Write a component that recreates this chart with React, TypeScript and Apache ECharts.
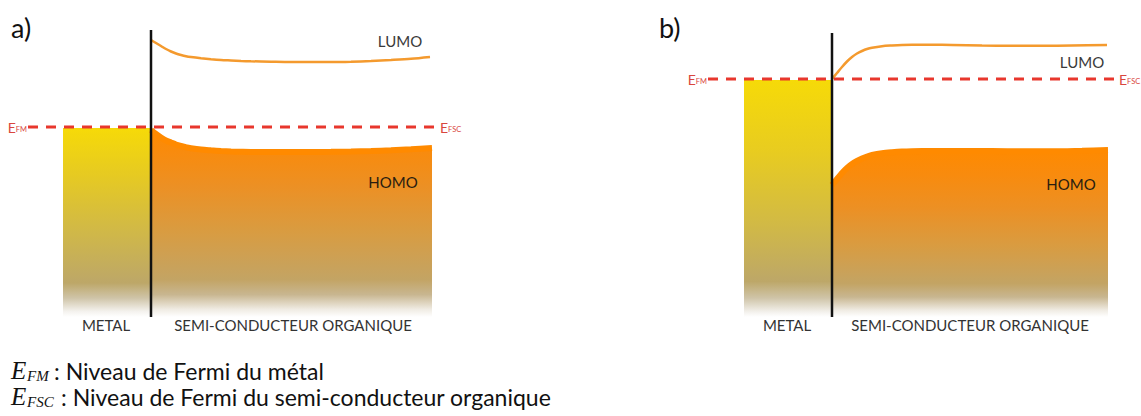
import React, { useEffect, useRef } from "react";
import * as echarts from "echarts";

// Panel a) — positions along the junction (interface at 0), energies relative to the Fermi level (0)
const lumoAX = [0, 5, 10, 15, 20, 25, 30, 35, 40, 50, 60, 70, 80, 90, 100, 120, 140, 160, 180, 200, 220, 240, 260, 279];
const lumoAE = [87, 84, 81, 78, 75.5, 73.5, 72, 70.8, 70, 68.8, 67.8, 67, 66.5, 66, 65.7, 65.3, 65, 65, 65, 65.3, 66, 67, 68.2, 70];
const homoAX = [0, 5, 10, 15, 20, 25, 30, 35, 40, 50, 60, 70, 80, 90, 100, 120, 140, 160, 180, 200, 220, 240, 260, 281];
const homoAE = [-3, -7, -10.5, -13.5, -15.5, -17.5, -19, -20.3, -21.2, -22.5, -23.3, -24, -24.5, -24.8, -25, -25, -25, -25, -24.8, -24.5, -24, -23.3, -22.3, -21];
const metalAX = [-88, 0];
const metalAE = [-1, -1];
const fermiAX = [-123, 286];

// Panel b)
const lumoBX = [0, 5, 10, 15, 20, 25, 30, 35, 40, 50, 60, 70, 80, 100, 120, 150, 180, 210, 240, 275];
const lumoBE = [0, 6, 12, 17.5, 22, 25.5, 28, 30, 31.3, 32.8, 33.5, 34, 34.2, 34.2, 34, 33.5, 33.2, 33.2, 33.5, 34];
const homoBX = [0, 5, 10, 15, 20, 25, 30, 35, 40, 50, 60, 70, 80, 100, 130, 160, 190, 220, 250, 276];
const homoBE = [-106, -100, -94, -89, -85, -82, -79.5, -77.5, -76, -74.2, -73.2, -72.5, -72.2, -72, -72, -72, -72.3, -72.3, -71.7, -71];
const metalBX = [-88, 0];
const metalBE = [-1, -1];
const fermiBX = [-124, 284];

const fermiLevel = 0;
const axisA = { xMin: -131, xMax: 289, yMin: -190, yMax: 97 };
const axisB = { xMin: -132, xMax: 298, yMin: -238, yMax: 46 };

const fermiLabels = ["FM", "FSC"];
const panelLabels = ["a)", "b)"];
const regionLabels = ["METAL", "SEMI-CONDUCTEUR ORGANIQUE"];
const bandLabels = ["LUMO", "HOMO"];
const legendItems = [
  { sub: "FM", text: ": Niveau de Fermi du métal" },
  { sub: "FSC", text: ": Niveau de Fermi du semi-conducteur organique" },
];

const zip = (xs: number[], ys: number[]) => xs.map((x, i) => [x, ys[i]]);

const grad = (stops: [number, string][]) =>
  new echarts.graphic.LinearGradient(
    0,
    0,
    0,
    1,
    stops.map(([offset, color]) => ({ offset, color }))
  );

const SANS = "Lato, 'Open Sans', sans-serif";

function panelSeries(
  idx: number,
  lumoX: number[],
  lumoE: number[],
  homoX: number[],
  homoE: number[],
  metalX: number[],
  metalE: number[],
  fermiX: number[],
  ax: { yMin: number; yMax: number },
  metalStops: [number, string][],
  homoStops: [number, string][]
) {
  const base = { xAxisIndex: idx, yAxisIndex: idx, type: "line", silent: true };
  return [
    {
      ...base,
      name: "metal" + idx,
      data: zip(metalX, metalE),
      showSymbol: false,
      lineStyle: { width: 0 },
      areaStyle: { origin: "start", color: grad(metalStops), opacity: 1 },
      z: 1,
    },
    {
      ...base,
      name: "homo" + idx,
      data: zip(homoX, homoE),
      smooth: 0.3,
      showSymbol: false,
      lineStyle: { width: 6, color: "#ff8a00" },
      areaStyle: { origin: "start", color: grad(homoStops), opacity: 1 },
      z: 2,
    },
    {
      ...base,
      name: "lumo" + idx,
      data: zip(lumoX, lumoE),
      smooth: 0.3,
      showSymbol: false,
      lineStyle: { width: 2.5, color: "#f49a2e" },
      z: 3,
    },
    {
      ...base,
      name: "fermi" + idx,
      data: [
        {
          value: [fermiX[0], fermiLevel],
          label: {
            show: true,
            position: "left",
            distance: 1,
            formatter: "{e|E}{s|" + fermiLabels[0] + "}",
          },
        },
        {
          value: [fermiX[1], fermiLevel],
          label: {
            show: true,
            position: "right",
            distance: 3,
            formatter: "{e|E}{s|" + fermiLabels[1] + "}",
          },
        },
      ],
      symbol: "circle",
      symbolSize: 0,
      lineStyle: { width: 3, color: "#e8372d", type: [10, 8] },
      label: {
        rich: {
          e: { fontSize: 14, color: "#d9463e", fontFamily: SANS, verticalAlign: "bottom" },
          s: { fontSize: 7.5, color: "#d9463e", fontFamily: SANS, verticalAlign: "bottom", padding: [0, 0, 1, 0] },
        },
      },
      z: 4,
    },
    {
      ...base,
      name: "interface" + idx,
      data: [
        [0, ax.yMax],
        [0, ax.yMin],
      ],
      showSymbol: false,
      lineStyle: { width: 2.5, color: "#111" },
      z: 5,
    },
  ];
}

const metalStopsA: [number, string][] = [
  [0, "#f6da08"],
  [0.25, "#e6ca22"],
  [0.55, "#d0b848"],
  [0.82, "#bda768"],
  [0.9, "#cfc4a8"],
  [0.97, "#f4f2ee"],
  [1, "#ffffff"],
];
const homoStopsA: [number, string][] = [
  [0, "#ff8a00"],
  [0.12, "#f88b0e"],
  [0.3, "#ec9024"],
  [0.55, "#d89c42"],
  [0.8, "#c3a464"],
  [0.88, "#c8b690"],
  [0.96, "#f0ece4"],
  [1, "#ffffff"],
];
const metalStopsB: [number, string][] = [
  [0, "#f6da08"],
  [0.3, "#e8cc20"],
  [0.6, "#d2ba44"],
  [0.85, "#bda768"],
  [0.92, "#cfc4a8"],
  [0.98, "#f4f2ee"],
  [1, "#ffffff"],
];
const homoStopsB: [number, string][] = [
  [0, "#ff8a00"],
  [0.15, "#f88b0e"],
  [0.35, "#ec9024"],
  [0.58, "#d89c42"],
  [0.8, "#c3a464"],
  [0.88, "#c8b690"],
  [0.96, "#f0ece4"],
  [1, "#ffffff"],
];

const txt = (x: number, y: number, text: string, font: string, color = "#333", align = "center") => ({
  type: "text",
  x,
  y,
  z: 100,
  silent: true,
  style: { text, font, fill: color, align, verticalAlign: "middle" },
});

const option: any = {
  animation: false,
  backgroundColor: "#ffffff",
  grid: [
    { left: 20, top: 30, width: 420, height: 287 },
    { left: 700, top: 33, width: 430, height: 284 },
  ],
  xAxis: [
    { gridIndex: 0, type: "value", min: axisA.xMin, max: axisA.xMax, show: false },
    { gridIndex: 1, type: "value", min: axisB.xMin, max: axisB.xMax, show: false },
  ],
  yAxis: [
    { gridIndex: 0, type: "value", min: axisA.yMin, max: axisA.yMax, show: false },
    { gridIndex: 1, type: "value", min: axisB.yMin, max: axisB.yMax, show: false },
  ],
  series: [
    ...panelSeries(0, lumoAX, lumoAE, homoAX, homoAE, metalAX, metalAE, fermiAX, axisA, metalStopsA, homoStopsA),
    ...panelSeries(1, lumoBX, lumoBE, homoBX, homoBE, metalBX, metalBE, fermiBX, axisB, metalStopsB, homoStopsB),
  ],
  graphic: [
    txt(11, 27, panelLabels[0], `27px ${SANS}`, "#111", "left"),
    txt(659, 27, panelLabels[1], `27px ${SANS}`, "#111", "left"),
    txt(106, 325, regionLabels[0], `15px ${SANS}`),
    txt(293, 325, regionLabels[1], `15px ${SANS}`),
    txt(787, 325, regionLabels[0], `15px ${SANS}`),
    txt(970, 325, regionLabels[1], `15px ${SANS}`),
    txt(400, 41, bandLabels[0], `15px ${SANS}`, "#3a3a3a"),
    txt(393, 182, bandLabels[1], `15px ${SANS}`, "#2a1d10"),
    txt(1082, 62, bandLabels[0], `15px ${SANS}`, "#3a3a3a"),
    txt(1071, 184, bandLabels[1], `15px ${SANS}`, "#2a1d10"),
    // legend
    txt(11, 370, "E", `italic 25px 'Liberation Serif', serif`, "#111", "left"),
    txt(27, 376, legendItems[0].sub, `italic 15px 'Liberation Serif', serif`, "#111", "left"),
    txt(54, 371, legendItems[0].text, `23px ${SANS}`, "#111", "left"),
    txt(11, 396, "E", `italic 25px 'Liberation Serif', serif`, "#111", "left"),
    txt(27, 402, legendItems[1].sub, `italic 15px 'Liberation Serif', serif`, "#111", "left"),
    txt(61, 397, legendItems[1].text, `23px ${SANS}`, "#111", "left"),
  ],
};

export default function App() {
  const ref = useRef<HTMLDivElement>(null);
  useEffect(() => {
    document.body.style.margin = "0";
    const chart = echarts.init(ref.current!, null, { renderer: "svg" });
    chart.setOption(option);
    return () => chart.dispose();
  }, []);
  return <div ref={ref} style={{ width: 1141, height: 416, background: "#fff" }} />;
}
